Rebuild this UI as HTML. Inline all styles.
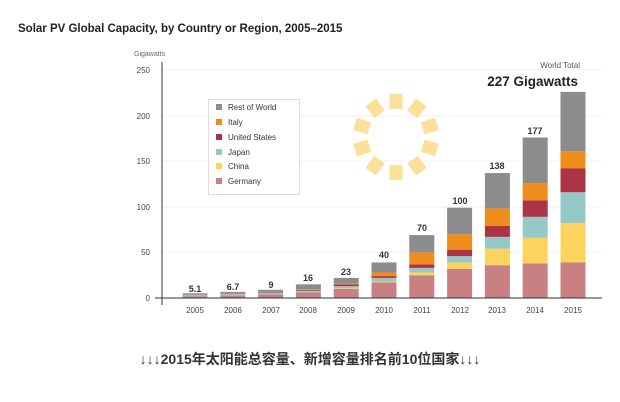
<!DOCTYPE html>
<html><head><meta charset="utf-8"><style>
body{margin:0;background:#fff;width:620px;height:402px;overflow:hidden}
svg{display:block;font-family:"Liberation Sans",sans-serif}
</style></head><body>
<svg id="s" width="620" height="402" viewBox="0 0 620 402">
<text x="18" y="32" font-size="11.5" font-weight="bold" fill="#222">Solar PV Global Capacity, by Country or Region, 2005–2015</text>
<text x="134" y="56" font-size="7" fill="#666">Gigawatts</text>
<g stroke="#eee" stroke-width="0.8">
<line x1="162" x2="602" y1="70" y2="70"/><line x1="162" x2="602" y1="116" y2="116"/><line x1="162" x2="602" y1="161" y2="161"/><line x1="162" x2="602" y1="207" y2="207"/><line x1="162" x2="602" y1="252" y2="252"/>
</g>
<g font-size="8" fill="#444" text-anchor="end">
<text x="150" y="73">250</text><text x="150" y="119">200</text><text x="150" y="164">150</text><text x="150" y="210">100</text><text x="150" y="255">50</text><text x="150" y="301">0</text>
</g>
<g id="bars"></g>
<line x1="162" y1="62" x2="162" y2="305" stroke="#333" stroke-width="1"/>
<line x1="155" y1="298" x2="602" y1="298" y2="298" stroke="#333" stroke-width="1"/>
<g font-size="8" fill="#444" text-anchor="middle">
<text x="195" y="313">2005</text><text x="233" y="313">2006</text><text x="271" y="313">2007</text><text x="308" y="313">2008</text><text x="346" y="313">2009</text><text x="384" y="313">2010</text><text x="422" y="313">2011</text><text x="460" y="313">2012</text><text x="497" y="313">2013</text><text x="535" y="313">2014</text><text x="573" y="313">2015</text>
</g>
<g font-size="9" font-weight="bold" fill="#333" text-anchor="middle">
<text x="195" y="292">5.1</text><text x="233" y="290">6.7</text><text x="271" y="288">9</text><text x="308" y="281">16</text><text x="346" y="275">23</text><text x="384" y="258">40</text><text x="422" y="231">70</text><text x="460" y="204">100</text><text x="497" y="169">138</text><text x="535" y="134">177</text>
</g>
<text x="580" y="68" font-size="8" fill="#555" text-anchor="end">World Total</text>
<text x="578" y="86" font-size="13.5" font-weight="bold" fill="#222" text-anchor="end">227 Gigawatts</text>
<rect x="208.5" y="99.5" width="91" height="95" fill="#fff" stroke="#ddd"/>
<g font-size="8" fill="#333">
<rect x="216" y="104" width="6" height="6" fill="#8c8c8e"/><text x="228" y="110">Rest of World</text>
<rect x="216" y="119" width="6" height="6" fill="#ef8c1c"/><text x="228" y="125">Italy</text>
<rect x="216" y="134" width="6" height="6" fill="#ac3447"/><text x="228" y="140">United States</text>
<rect x="216" y="149" width="6" height="6" fill="#95c9c5"/><text x="228" y="155">Japan</text>
<rect x="216" y="163" width="6" height="6" fill="#fcd35c"/><text x="228" y="169">China</text>
<rect x="216" y="178" width="6" height="6" fill="#c98082"/><text x="228" y="184">Germany</text>
</g>
<g id="sun" fill="#fbe09a"></g>
<text x="310" y="364" font-size="14" font-weight="bold" fill="#333" text-anchor="middle" font-family="'Liberation Sans','Noto Sans CJK SC',sans-serif">↓↓↓2015年太阳能总容量、新增容量排名前10位国家↓↓↓</text>
</svg>
<script>
var d=[[2,2,3.5,4,4,5.1],[2.8,2.9,4.6,5.2,5.3,6.7],[4,4,6,6.8,7,9],[6,6,8,9,9.5,15],[10,10.5,13,15,16,22],[17,18,22,24,28,39],[25,28,33,37,50,69],[32,39,46,53,70,99],[36,54,67,79,98,137],[38,66,89,107,126,176],[39,82,116,142,161,226]];
var c=["#c98082","#fcd35c","#95c9c5","#ac3447","#ef8c1c","#8c8c8e"];
var g=document.getElementById('bars'),h='';
d.forEach(function(a,i){var x=195+37.8*i-12.5,p=0;a.forEach(function(v,j){var y1=298-0.912*p,y2=298-0.912*v;if(v>p)h+='<rect x="'+x+'" y="'+y2+'" width="25" height="'+(y1-y2)+'" fill="'+c[j]+'"/>';p=v;});});
g.innerHTML=h;
var s='';for(var k=0;k<10;k++){var a=k*36;s+='<rect x="-6.5" y="-43" width="13" height="15" rx="1" transform="translate(396,137) rotate('+a+')"/>';}
document.getElementById('sun').innerHTML=s;
</script>
</body></html>
